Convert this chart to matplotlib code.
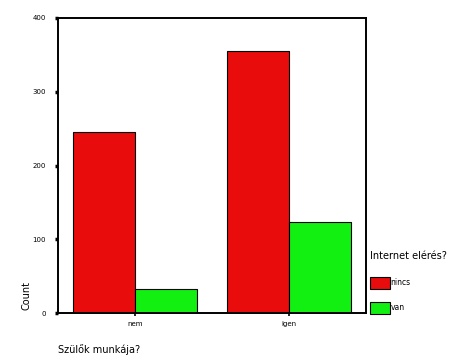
import numpy as np
import matplotlib.pyplot as plt

# data
categories = ['nem', 'igen']
nincs = [246, 355]
van = [32, 123]
series_labels = ['nincs', 'van']
y_ticks = [0, 100, 200, 300, 400]

red = '#e80c0c'
green = '#12f012'

fig = plt.figure(figsize=(4.55, 3.64), dpi=100)
ax = fig.add_axes([58/455, 51/364, 308/455, 295/364])

x = np.arange(len(categories))
w = 0.4
b1 = ax.bar(x - w/2, nincs, w, color=red, edgecolor='black', linewidth=0.8, label=series_labels[0])
b2 = ax.bar(x + w/2, van, w, color=green, edgecolor='black', linewidth=0.8, label=series_labels[1])

ax.set_xlim(-0.5, 1.5)
ax.set_ylim(0, 400)
ax.set_xticks(x)
ax.set_xticklabels(categories, fontsize=5)
ax.set_yticks(y_ticks)
ax.set_yticklabels([str(t) for t in y_ticks], fontsize=5)
ax.tick_params(axis='y', length=2.5, width=2.5, pad=6)
ax.tick_params(axis='x', length=2, width=1.2, pad=4)
for s in ax.spines.values():
    s.set_linewidth(1.4)

fig.text(27/455, 1 - 296/364, 'Count', rotation=90, fontsize=7, ha='center', va='center')
fig.text(58/455, 1 - 350/364, 'Szülők munkája?', fontsize=7, ha='left', va='center')

leg = fig.legend(handles=[b1, b2], labels=series_labels, title='Internet elérés?',
                 loc='upper left', bbox_to_anchor=(368/455, 1 - 249/364),
                 frameon=False, fontsize=5.5, title_fontsize=7,
                 handlelength=2.6, handleheight=2.2, labelspacing=1.6,
                 handletextpad=0.05, borderaxespad=0, borderpad=0.3)
leg._legend_box.align = 'left'
leg._legend_box.sep = 11

fig.savefig('out.png', dpi=100)
